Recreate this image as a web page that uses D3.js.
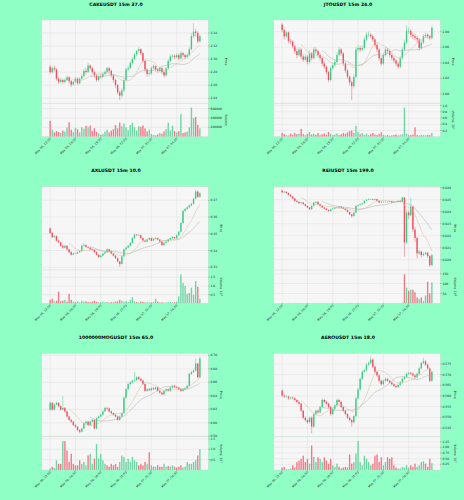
<!DOCTYPE html>
<html>
<head>
<meta charset="utf-8">
<script src="https://cdn.jsdelivr.net/npm/d3@7"></script>
<style>
html, body { margin: 0; padding: 0; background: #8fffc6; }
svg { display: block; font-family: "DejaVu Sans", sans-serif; }
</style>
</head>
<body>
<svg id="chart" width="464" height="500"></svg>
<script>
// titles and time axis
var titles = ["CAKEUSDT 15m 37.0", "JTOUSDT 15m 24.0", "AXLUSDT 15m 10.0",
              "REIUSDT 15m 199.0", "1000000MOGUSDT 15m 65.0", "AEROUSDT 15m 18.0"];
var dateTicks = ["May 06, 13:00", "May 06, 16:00", "May 06, 19:00",
                 "May 06, 22:00", "May 07, 01:00", "May 07, 04:00"];
var dateTickIndex = [0, 12, 24, 36, 48, 60];

// open of the first candle; every later open is the previous close
var firstOpen = [2.288, 2.089, 0.3532, 0.02575, 0.6195, 0.5625];

// CAKEUSDT
var cakeClose = [2.280,2.286,2.284,2.270,2.265,2.268,2.265,2.268,2.272,2.266,
  2.261,2.265,2.270,2.263,2.270,2.274,2.282,2.280,2.290,2.286,
  2.280,2.275,2.268,2.274,2.273,2.277,2.280,2.286,2.282,2.275,
  2.268,2.260,2.249,2.244,2.252,2.268,2.284,2.286,2.294,2.300,
  2.307,2.312,2.315,2.309,2.297,2.284,2.277,2.278,2.286,2.289,
  2.284,2.282,2.286,2.280,2.275,2.286,2.297,2.304,2.305,2.303,
  2.306,2.301,2.309,2.306,2.303,2.306,2.315,2.335,2.342,2.340,
  2.327,2.335];
var cakeHigh = [2.291,2.289,2.290,2.286,2.273,2.271,2.270,2.271,2.275,2.274,
  2.268,2.267,2.273,2.272,2.272,2.277,2.285,2.286,2.294,2.292,
  2.288,2.282,2.277,2.276,2.277,2.279,2.283,2.288,2.288,2.284,
  2.277,2.270,2.262,2.252,2.255,2.271,2.287,2.290,2.297,2.303,
  2.310,2.314,2.318,2.317,2.311,2.299,2.286,2.281,2.289,2.292,
  2.291,2.286,2.288,2.288,2.282,2.288,2.300,2.307,2.308,2.307,
  2.309,2.308,2.312,2.311,2.308,2.309,2.318,2.339,2.355,2.346,
  2.343,2.338];
var cakeLow = [2.277,2.278,2.281,2.267,2.262,2.263,2.262,2.263,2.266,2.263,
  2.257,2.259,2.263,2.260,2.261,2.268,2.272,2.277,2.279,2.283,
  2.277,2.272,2.265,2.266,2.270,2.271,2.275,2.278,2.279,2.272,
  2.264,2.256,2.246,2.237,2.241,2.250,2.266,2.281,2.284,2.291,
  2.298,2.304,2.310,2.306,2.294,2.281,2.273,2.274,2.276,2.284,
  2.281,2.279,2.280,2.277,2.272,2.273,2.284,2.295,2.301,2.300,
  2.301,2.298,2.299,2.303,2.300,2.301,2.304,2.313,2.332,2.334,
  2.324,2.325];
var cakeVol = [340e3,150e3,90e3,120e3,100e3,80e3,130e3,110e3,200e3,310e3,
  150e3,100e3,190e3,160e3,90e3,200e3,170e3,230e3,200e3,240e3,
  120e3,180e3,100e3,70e3,40e3,60e3,110e3,150e3,90e3,130e3,
  160e3,250e3,180e3,300e3,220e3,280e3,200e3,140e3,250e3,300e3,
  200e3,130e3,220e3,210e3,240e3,180e3,110e3,150e3,60e3,40e3,
  30e3,50e3,80e3,60e3,110e3,160e3,300e3,130e3,230e3,120e3,
  90e3,120e3,480e3,80e3,90e3,110e3,200e3,620e3,400e3,420e3,
  250e3,180e3];
var cakeTicks = [2.24, 2.26, 2.28, 2.30, 2.32, 2.34, 2.36];
var cakeVolTicks = [200000, 400000, 600000];

// JTOUSDT (volume in 1e7)
var jtoClose = [2.082,2.074,2.079,2.068,2.067,2.061,2.055,2.050,2.057,2.048,
  2.044,2.048,2.041,2.052,2.046,2.057,2.055,2.050,2.046,2.039,
  2.035,2.028,2.018,2.033,2.037,2.041,2.050,2.057,2.052,2.039,
  2.030,2.022,2.015,2.010,2.022,2.057,2.059,2.057,2.059,2.070,
  2.076,2.076,2.074,2.070,2.063,2.057,2.046,2.039,2.050,2.057,
  2.055,2.050,2.046,2.043,2.039,2.035,2.046,2.057,2.066,2.081,
  2.081,2.076,2.074,2.072,2.070,2.059,2.066,2.074,2.076,2.074,
  2.072,2.085];
var jtoHigh = [2.091,2.084,2.081,2.080,2.071,2.069,2.063,2.058,2.060,2.059,
  2.051,2.051,2.050,2.056,2.054,2.060,2.060,2.057,2.052,2.048,
  2.042,2.037,2.030,2.036,2.040,2.044,2.053,2.060,2.059,2.054,
  2.041,2.032,2.024,2.017,2.025,2.060,2.063,2.062,2.062,2.073,
  2.079,2.080,2.078,2.076,2.072,2.065,2.059,2.048,2.053,2.060,
  2.059,2.057,2.052,2.049,2.045,2.041,2.049,2.060,2.070,2.088,
  2.085,2.083,2.079,2.077,2.075,2.072,2.069,2.077,2.079,2.078,
  2.076,2.088];
var jtoLow = [2.079,2.070,2.072,2.065,2.064,2.058,2.052,2.046,2.048,2.045,
  2.041,2.042,2.038,2.039,2.043,2.044,2.052,2.047,2.043,2.036,
  2.032,2.025,2.015,2.016,2.031,2.035,2.039,2.048,2.049,2.036,
  2.027,2.019,2.011,1.992,2.007,2.020,2.054,2.054,2.055,2.057,
  2.068,2.073,2.071,2.067,2.060,2.054,2.043,2.036,2.037,2.048,
  2.052,2.047,2.043,2.040,2.036,2.032,2.033,2.044,2.055,2.064,
  2.077,2.073,2.071,2.069,2.066,2.056,2.057,2.064,2.072,2.071,
  2.069,2.070];
var jtoVol = [0.12,0.08,0.05,0.04,0.10,0.06,0.12,0.08,0.10,0.25,
  0.08,0.05,0.09,0.15,0.07,0.10,0.06,0.12,0.05,0.08,
  0.10,0.06,0.15,0.09,0.05,0.07,0.10,0.06,0.08,0.12,
  0.09,0.14,0.18,0.20,0.12,0.35,0.15,0.08,0.12,0.06,
  0.10,0.05,0.08,0.12,0.07,0.05,0.09,0.14,0.06,0.04,
  0.05,0.03,0.04,0.05,0.07,0.04,0.06,0.08,0.93,0.10,
  0.06,0.05,0.07,0.30,0.05,0.04,0.06,0.05,0.04,0.06,
  0.05,0.12];
var jtoTicks = [2.00, 2.02, 2.04, 2.06, 2.08];
var jtoVolTicks = [0.2, 0.4, 0.6, 0.8, 1.0];

// AXLUSDT (volume in 1e7)
var axlClose = [0.3505,0.3480,0.3486,0.3459,0.3449,0.3428,0.3417,0.3428,0.3407,0.3390,
  0.3375,0.3382,0.3382,0.3390,0.3396,0.3428,0.3432,0.3421,0.3417,0.3407,
  0.3403,0.3390,0.3375,0.3361,0.3369,0.3382,0.3390,0.3407,0.3396,0.3382,
  0.3369,0.3354,0.3334,0.3319,0.3365,0.3407,0.3417,0.3428,0.3445,0.3474,
  0.3495,0.3491,0.3491,0.3474,0.3459,0.3453,0.3465,0.3474,0.3459,0.3469,
  0.3474,0.3465,0.3453,0.3432,0.3445,0.3453,0.3465,0.3474,0.3480,0.3474,
  0.3491,0.3512,0.3564,0.3637,0.3648,0.3658,0.3669,0.3679,0.3710,0.3752,
  0.3721,0.3742];
var axlHigh = [0.3538,0.3510,0.3492,0.3490,0.3465,0.3453,0.3434,0.3433,0.3432,0.3411,
  0.3395,0.3387,0.3388,0.3395,0.3401,0.3434,0.3445,0.3437,0.3426,0.3421,
  0.3412,0.3407,0.3394,0.3379,0.3374,0.3387,0.3395,0.3412,0.3411,0.3400,
  0.3386,0.3373,0.3358,0.3338,0.3370,0.3412,0.3423,0.3433,0.3450,0.3480,
  0.3500,0.3499,0.3497,0.3495,0.3478,0.3464,0.3470,0.3480,0.3478,0.3474,
  0.3481,0.3478,0.3469,0.3457,0.3450,0.3458,0.3470,0.3479,0.3485,0.3484,
  0.3496,0.3518,0.3572,0.3645,0.3655,0.3664,0.3675,0.3686,0.3716,0.3763,
  0.3758,0.3748];
var axlLow = [0.3498,0.3474,0.3476,0.3452,0.3443,0.3422,0.3411,0.3413,0.3401,0.3384,
  0.3370,0.3371,0.3377,0.3378,0.3386,0.3393,0.3424,0.3416,0.3412,0.3402,
  0.3398,0.3385,0.3370,0.3356,0.3357,0.3365,0.3378,0.3386,0.3391,0.3377,
  0.3364,0.3349,0.3328,0.3302,0.3315,0.3360,0.3402,0.3412,0.3423,0.3441,
  0.3470,0.3486,0.3485,0.3469,0.3454,0.3448,0.3449,0.3461,0.3454,0.3455,
  0.3465,0.3460,0.3448,0.3427,0.3428,0.3441,0.3449,0.3461,0.3469,0.3469,
  0.3470,0.3487,0.3508,0.3558,0.3630,0.3641,0.3652,0.3663,0.3674,0.3705,
  0.3714,0.3716];
var axlVol = [0.20,0.27,0.10,0.15,0.67,0.12,0.15,0.20,0.10,0.55,
  0.20,0.10,0.08,0.12,0.06,0.15,0.10,0.12,0.08,0.06,
  0.10,0.15,0.08,0.05,0.07,0.10,0.06,0.08,0.05,0.07,
  0.06,0.10,0.12,0.20,0.15,0.10,0.12,0.08,0.20,0.35,
  0.12,0.08,0.06,0.10,0.08,0.05,0.07,0.06,0.05,0.08,
  0.27,0.10,0.05,0.06,0.04,0.05,0.06,0.08,0.05,0.07,
  0.10,0.40,1.67,1.18,1.00,0.55,0.60,0.90,0.50,1.27,
  0.95,0.27];
var axlTicks = [0.33, 0.34, 0.35, 0.36, 0.37];
var axlVolTicks = [0.5, 1.0, 1.5];

// REIUSDT (volume in 1e6)
var reiClose = [0.02561,0.02566,0.02555,0.02540,0.02527,0.02510,0.02490,0.02482,0.02470,0.02476,
  0.02462,0.02448,0.02434,0.02420,0.02448,0.02476,0.02482,0.02462,0.02448,0.02434,
  0.02425,0.02414,0.02406,0.02420,0.02425,0.02434,0.02434,0.02442,0.02434,0.02425,
  0.02414,0.02397,0.02377,0.02363,0.02392,0.02448,0.02454,0.02462,0.02470,0.02490,
  0.02499,0.02504,0.02504,0.02499,0.02504,0.02490,0.02476,0.02482,0.02482,0.02482,
  0.02482,0.02487,0.02476,0.02482,0.02482,0.02490,0.02482,0.02518,0.02144,0.02392,
  0.02370,0.02442,0.02251,0.02180,0.02053,0.02068,0.02039,0.02048,0.02059,0.02031,
  0.01955,0.02039];
var reiHigh = [0.02582,0.02572,0.02570,0.02559,0.02545,0.02531,0.02514,0.02495,0.02486,0.02481,
  0.02480,0.02466,0.02452,0.02438,0.02453,0.02482,0.02488,0.02486,0.02466,0.02452,
  0.02438,0.02429,0.02418,0.02425,0.02430,0.02439,0.02439,0.02447,0.02446,0.02438,
  0.02429,0.02418,0.02401,0.02381,0.02397,0.02453,0.02460,0.02467,0.02475,0.02495,
  0.02504,0.02509,0.02510,0.02508,0.02509,0.02508,0.02494,0.02487,0.02487,0.02486,
  0.02487,0.02492,0.02491,0.02487,0.02486,0.02495,0.02494,0.02525,0.02522,0.02420,
  0.02410,0.02518,0.02450,0.02270,0.02190,0.02085,0.02075,0.02065,0.02070,0.02066,
  0.02040,0.02050];
var reiLow = [0.02555,0.02556,0.02550,0.02535,0.02522,0.02505,0.02485,0.02477,0.02465,0.02466,
  0.02457,0.02443,0.02429,0.02415,0.02416,0.02444,0.02471,0.02457,0.02443,0.02429,
  0.02420,0.02409,0.02401,0.02402,0.02416,0.02421,0.02429,0.02430,0.02429,0.02420,
  0.02409,0.02392,0.02372,0.02349,0.02359,0.02388,0.02443,0.02450,0.02458,0.02466,
  0.02486,0.02495,0.02499,0.02494,0.02495,0.02485,0.02471,0.02472,0.02477,0.02478,
  0.02477,0.02478,0.02471,0.02472,0.02477,0.02478,0.02477,0.02478,0.02025,0.02130,
  0.02340,0.02360,0.02230,0.02150,0.02011,0.02040,0.02020,0.02030,0.02040,0.02015,
  0.01941,0.01950];
var reiVol = [1.2,0.8,0.6,1.0,0.5,0.9,1.4,0.7,0.6,0.8,
  1.1,0.9,1.3,0.7,0.6,1.5,0.8,0.6,0.9,0.5,
  0.7,0.8,0.6,0.5,0.4,0.6,0.5,0.7,0.4,0.6,
  0.8,1.0,1.2,1.6,1.0,2.0,0.9,0.7,0.6,0.8,
  0.9,0.5,0.4,0.6,0.5,0.7,0.8,0.5,0.4,0.3,
  0.4,0.5,0.3,0.4,0.3,0.5,0.6,4.0,147,80,
  64,69,69,56,30,22,30,12,40,109,
  50,106];
var reiTicks = [0.019, 0.020, 0.021, 0.022, 0.023, 0.024, 0.025, 0.026];
var reiVolTicks = [50, 100, 150];

// 1000000MOGUSDT (volume in 1e7)
var mogClose = [0.6297,0.6195,0.6271,0.6297,0.6246,0.6195,0.6221,0.6170,0.6094,0.6044,
  0.6018,0.5968,0.5942,0.5892,0.5867,0.5917,0.5993,0.6018,0.5968,0.6018,
  0.6044,0.5917,0.6069,0.6094,0.6120,0.6170,0.6221,0.6211,0.6170,0.6145,
  0.6120,0.6094,0.6044,0.6094,0.6145,0.6373,0.6499,0.6575,0.6600,0.6626,
  0.6636,0.6676,0.6651,0.6626,0.6575,0.6474,0.6499,0.6484,0.6514,0.6499,
  0.6524,0.6474,0.6448,0.6423,0.6474,0.6499,0.6474,0.6524,0.6550,0.6534,
  0.6524,0.6499,0.6474,0.6499,0.6514,0.6550,0.6727,0.6752,0.6777,0.6879,
  0.6676,0.6954];
var mogHigh = [0.6320,0.6310,0.6290,0.6315,0.6305,0.6255,0.6398,0.6235,0.6180,0.6105,
  0.6055,0.6030,0.5980,0.5955,0.5905,0.5930,0.6010,0.6035,0.6030,0.6030,
  0.6060,0.6055,0.6085,0.6110,0.6135,0.6185,0.6240,0.6235,0.6225,0.6180,
  0.6155,0.6130,0.6105,0.6110,0.6160,0.6390,0.6520,0.6590,0.6615,0.6640,
  0.6752,0.6695,0.6690,0.6665,0.6640,0.6590,0.6515,0.6515,0.6530,0.6530,
  0.6540,0.6535,0.6490,0.6460,0.6490,0.6515,0.6510,0.6540,0.6565,0.6565,
  0.6548,0.6535,0.6510,0.6515,0.6530,0.6565,0.6745,0.6770,0.6795,0.6954,
  0.6890,0.6985];
var mogLow = [0.6180,0.6180,0.6185,0.6260,0.6230,0.6180,0.6185,0.6150,0.6080,0.6030,
  0.6000,0.5950,0.5925,0.5875,0.5841,0.5855,0.5905,0.5980,0.5950,0.5955,
  0.6005,0.5900,0.5905,0.6055,0.6080,0.6105,0.6160,0.6195,0.6155,0.6130,
  0.6105,0.6080,0.6030,0.6030,0.6080,0.6135,0.6360,0.6485,0.6560,0.6585,
  0.6610,0.6620,0.6635,0.6610,0.6560,0.6460,0.6460,0.6470,0.6470,0.6485,
  0.6485,0.6460,0.6430,0.6405,0.6410,0.6460,0.6460,0.6460,0.6510,0.6520,
  0.6510,0.6485,0.6460,0.6460,0.6485,0.6500,0.6540,0.6710,0.6735,0.6760,
  0.6660,0.6665];
var mogVol = [0.08,0.16,0.10,0.47,0.30,0.30,1.40,1.40,0.94,0.39,
  0.78,0.30,0.23,0.23,0.47,0.30,0.39,0.23,0.70,0.78,
  0.30,0.55,1.25,0.55,0.78,0.47,0.30,0.23,0.16,0.30,
  0.23,0.30,0.16,0.39,0.70,0.63,0.39,0.55,0.39,0.63,
  0.47,0.39,0.23,0.30,0.23,0.39,0.30,0.86,0.23,0.16,
  0.16,0.23,0.16,0.16,0.30,0.16,0.19,0.16,0.23,0.16,
  0.12,0.16,0.23,0.12,0.16,0.39,0.30,0.30,0.39,0.47,
  0.70,1.00];
var mogTicks = [0.58, 0.60, 0.62, 0.64, 0.66, 0.68, 0.70];
var mogVolTicks = [0.5, 1.0, 1.5];

// AEROUSDT (volume in 1e7)
var aeroClose = [0.5602,0.5597,0.5597,0.5589,0.5592,0.5589,0.5581,0.5572,0.5564,0.5531,
  0.5498,0.5487,0.5477,0.5498,0.5457,0.5515,0.5531,0.5523,0.5548,0.5581,
  0.5572,0.5564,0.5548,0.5515,0.5540,0.5556,0.5581,0.5572,0.5548,0.5531,
  0.5515,0.5498,0.5487,0.5477,0.5506,0.5589,0.5630,0.5680,0.5713,0.5721,
  0.5746,0.5754,0.5770,0.5737,0.5713,0.5696,0.5671,0.5655,0.5671,0.5680,
  0.5671,0.5663,0.5655,0.5647,0.5642,0.5652,0.5663,0.5680,0.5688,0.5704,
  0.5708,0.5704,0.5696,0.5688,0.5704,0.5729,0.5754,0.5762,0.5746,0.5729,
  0.5671,0.5713];
var aeroHigh = [0.5630,0.5608,0.5603,0.5602,0.5598,0.5597,0.5594,0.5586,0.5578,0.5569,
  0.5536,0.5504,0.5493,0.5504,0.5504,0.5521,0.5537,0.5537,0.5554,0.5588,
  0.5587,0.5578,0.5569,0.5553,0.5546,0.5562,0.5588,0.5587,0.5577,0.5553,
  0.5536,0.5520,0.5503,0.5492,0.5512,0.5595,0.5637,0.5687,0.5720,0.5728,
  0.5753,0.5762,0.5785,0.5776,0.5742,0.5718,0.5701,0.5676,0.5677,0.5686,
  0.5685,0.5676,0.5668,0.5660,0.5652,0.5658,0.5669,0.5686,0.5694,0.5710,
  0.5714,0.5713,0.5709,0.5701,0.5710,0.5735,0.5760,0.5779,0.5767,0.5751,
  0.5734,0.5719];
var aeroLow = [0.5596,0.5591,0.5592,0.5583,0.5584,0.5583,0.5575,0.5566,0.5558,0.5524,
  0.5491,0.5480,0.5470,0.5471,0.5424,0.5450,0.5509,0.5517,0.5518,0.5543,
  0.5566,0.5558,0.5542,0.5508,0.5510,0.5534,0.5551,0.5566,0.5542,0.5525,
  0.5509,0.5492,0.5481,0.5457,0.5471,0.5500,0.5583,0.5624,0.5674,0.5707,
  0.5715,0.5740,0.5748,0.5730,0.5706,0.5689,0.5664,0.5648,0.5649,0.5665,
  0.5665,0.5657,0.5649,0.5641,0.5636,0.5637,0.5647,0.5658,0.5675,0.5683,
  0.5699,0.5698,0.5690,0.5682,0.5683,0.5699,0.5724,0.5748,0.5740,0.5723,
  0.5664,0.5666];
var aeroVol = [0.11,0.14,0.03,0.03,0.07,0.21,0.11,0.35,0.42,0.49,
  0.63,0.35,0.49,0.28,1.08,0.58,0.35,0.56,0.49,0.35,
  0.56,0.42,0.28,0.49,0.21,0.14,0.28,0.14,0.07,0.11,
  0.14,0.11,0.69,0.28,0.35,0.72,1.28,0.35,0.21,0.63,
  0.49,0.35,0.21,0.28,0.63,0.69,0.35,0.56,0.21,0.35,
  0.56,0.49,0.56,0.21,0.11,0.07,0.07,0.14,0.11,0.21,
  0.11,0.21,0.14,0.28,0.14,0.21,0.35,0.39,0.28,0.14,
  0.49,0.30];
var aeroTicks = [0.540, 0.545, 0.550, 0.555, 0.560, 0.565, 0.570, 0.575, 0.580];
var aeroVolTicks = [0.25, 0.50, 0.75, 1.00, 1.25];

var panels = [
  {close: cakeClose, high: cakeHigh, low: cakeLow, vol: cakeVol, ticks: cakeTicks, fmt: ".2f", vticks: cakeVolTicks, vfmt: "d", vexp: null},
  {close: jtoClose, high: jtoHigh, low: jtoLow, vol: jtoVol, ticks: jtoTicks, fmt: ".2f", vticks: jtoVolTicks, vfmt: ".1f", vexp: "7"},
  {close: axlClose, high: axlHigh, low: axlLow, vol: axlVol, ticks: axlTicks, fmt: ".2f", vticks: axlVolTicks, vfmt: ".1f", vexp: "7"},
  {close: reiClose, high: reiHigh, low: reiLow, vol: reiVol, ticks: reiTicks, fmt: ".3f", vticks: reiVolTicks, vfmt: "d", vexp: "6"},
  {close: mogClose, high: mogHigh, low: mogLow, vol: mogVol, ticks: mogTicks, fmt: ".2f", vticks: mogVolTicks, vfmt: ".1f", vexp: "7"},
  {close: aeroClose, high: aeroHigh, low: aeroLow, vol: aeroVol, ticks: aeroTicks, fmt: ".3f", vticks: aeroVolTicks, vfmt: ".2f", vexp: "7"}
];

var upColor = "#3dc985", downColor = "#ef4f60";
var mavs = [10, 20], mavColors = ["#d3bf96", "#adadad"];

// layout of one cell
var cellW = 232, cellH = 500 / 3;
var plotL = 41.7, plotR = 208.3, priceT = 20, priceB = 103.3, volB = 136.7;

var svg = d3.select("#chart");

panels.forEach(function(p, k) {
  var g = svg.append("g")
      .attr("transform", "translate(" + (k % 2) * cellW + "," + Math.floor(k / 2) * cellH + ")");

  var n = p.close.length;
  var data = p.close.map(function(c, i) {
    return {i: i, o: i ? p.close[i - 1] : firstOpen[k], h: p.high[i], l: p.low[i], c: c, v: p.vol[i]};
  });

  // scales
  var x = d3.scaleLinear().domain([-4, n + 3]).range([plotL, plotR]);
  var slot = x(1) - x(0);
  var lo = d3.min(p.low), hi = d3.max(p.high), pad = (hi - lo) * 0.04;
  var y = d3.scaleLinear().domain([lo - pad, hi + pad]).range([priceB, priceT]);
  var yv = d3.scaleLinear().domain([0, d3.max(p.vol) * 1.15]).range([volB, priceB]);

  // title
  g.append("text")
      .attr("x", cellW / 2).attr("y", 5.6)
      .attr("text-anchor", "middle")
      .style("font-size", "4.6px").style("font-weight", "bold")
      .text(titles[k]);

  // faces
  g.append("rect").attr("x", plotL).attr("y", priceT).attr("width", plotR - plotL).attr("height", priceB - priceT)
      .attr("fill", "#f6f6f6");
  g.append("rect").attr("x", plotL).attr("y", priceB).attr("width", plotR - plotL).attr("height", volB - priceB)
      .attr("fill", "#f6f6f6");

  // grid
  var yTicks = p.ticks.filter(function(t) { return t >= y.domain()[0] && t <= y.domain()[1]; });
  g.selectAll(".hgrid").data(yTicks).enter().append("line")
      .attr("x1", plotL).attr("x2", plotR)
      .attr("y1", function(d) { return y(d); }).attr("y2", function(d) { return y(d); })
      .attr("stroke", "#dcdcdc").attr("stroke-width", 0.4);
  g.selectAll(".vgrid").data(p.vticks).enter().append("line")
      .attr("x1", plotL).attr("x2", plotR)
      .attr("y1", function(d) { return yv(d); }).attr("y2", function(d) { return yv(d); })
      .attr("stroke", "#dcdcdc").attr("stroke-width", 0.4);
  g.selectAll(".xgrid").data(dateTickIndex).enter().append("line")
      .attr("x1", function(d) { return x(d); }).attr("x2", function(d) { return x(d); })
      .attr("y1", priceT).attr("y2", volB)
      .attr("stroke", "#dcdcdc").attr("stroke-width", 0.4);

  // candles
  var col = function(d) { return d.c >= d.o ? upColor : downColor; };
  var bw = slot * 0.65;
  var cg = g.append("g");
  cg.selectAll(".wick").data(data).enter().append("line")
      .attr("x1", function(d) { return x(d.i); }).attr("x2", function(d) { return x(d.i); })
      .attr("y1", function(d) { return y(d.h); }).attr("y2", function(d) { return y(d.l); })
      .attr("stroke", col).attr("stroke-width", 0.45);
  cg.selectAll(".body").data(data).enter().append("rect")
      .attr("x", function(d) { return x(d.i) - bw / 2; })
      .attr("y", function(d) { return y(Math.max(d.o, d.c)); })
      .attr("width", bw)
      .attr("height", function(d) { return Math.max(0.4, Math.abs(y(d.o) - y(d.c))); })
      .attr("fill", col);

  // moving averages
  mavs.forEach(function(m, j) {
    var pts = data.slice(m - 1).map(function(d) {
      return {i: d.i, v: d3.mean(p.close.slice(d.i - m + 1, d.i + 1))};
    });
    g.append("path").datum(pts)
        .attr("fill", "none").attr("stroke", mavColors[j]).attr("stroke-width", 0.5)
        .attr("d", d3.line().x(function(d) { return x(d.i); }).y(function(d) { return y(d.v); }));
  });

  // volume bars
  g.selectAll(".vol").data(data).enter().append("rect")
      .attr("x", function(d) { return x(d.i) - bw / 2; })
      .attr("y", function(d) { return yv(d.v); })
      .attr("width", bw)
      .attr("height", function(d) { return volB - yv(d.v); })
      .attr("fill", col).attr("fill-opacity", 0.75);

  // frame
  g.append("rect").attr("x", plotL).attr("y", priceT).attr("width", plotR - plotL).attr("height", volB - priceT)
      .attr("fill", "none").attr("stroke", "#d0d0d0").attr("stroke-width", 0.4);
  g.append("line").attr("x1", plotL).attr("x2", plotR).attr("y1", priceB).attr("y2", priceB)
      .attr("stroke", "#d0d0d0").attr("stroke-width", 0.4);

  // right axes
  var fy = d3.format(p.fmt), fv = d3.format(p.vfmt);
  var labW = 0;
  function rightTicks(vals, scale, fmt) {
    vals.forEach(function(t) {
      g.append("line").attr("x1", plotR).attr("x2", plotR + 1.3)
          .attr("y1", scale(t)).attr("y2", scale(t))
          .attr("stroke", "#555").attr("stroke-width", 0.35);
      var tx = g.append("text").attr("x", plotR + 2.2).attr("y", scale(t)).attr("dy", "0.35em")
          .style("font-size", "3px").attr("fill", "#222").text(fmt(t));
      labW = Math.max(labW, tx.node().getComputedTextLength());
    });
  }
  rightTicks(yTicks, y, fy);
  rightTicks(p.vticks, yv, fv);

  var lx = plotR + 2.2 + labW + 3;
  g.append("text")
      .attr("transform", "translate(" + lx + "," + (priceT + priceB) / 2 + ") rotate(90)")
      .attr("text-anchor", "middle").style("font-size", "3.2px").attr("fill", "#222")
      .text("Price");
  var vl = g.append("text")
      .attr("transform", "translate(" + lx + "," + (priceB + volB) / 2 + ") rotate(90)")
      .attr("text-anchor", "middle").style("font-size", "3.2px").attr("fill", "#222");
  vl.append("tspan").text("Volume");
  if (p.vexp) {
    vl.append("tspan").attr("dx", 1.5).text("10");
    vl.append("tspan").attr("dy", -1.1).style("font-size", "2.2px").text(p.vexp);
  }

  // date axis
  dateTickIndex.forEach(function(t, j) {
    g.append("line").attr("x1", x(t)).attr("x2", x(t)).attr("y1", volB).attr("y2", volB + 1.2)
        .attr("stroke", "#555").attr("stroke-width", 0.35);
    g.append("text")
        .attr("transform", "translate(" + (x(t) + 1) + "," + (volB + 2.6) + ") rotate(-45)")
        .attr("text-anchor", "end").style("font-size", "3px").attr("fill", "#222")
        .text(dateTicks[j]);
  });
});
</script>
</body>
</html>
